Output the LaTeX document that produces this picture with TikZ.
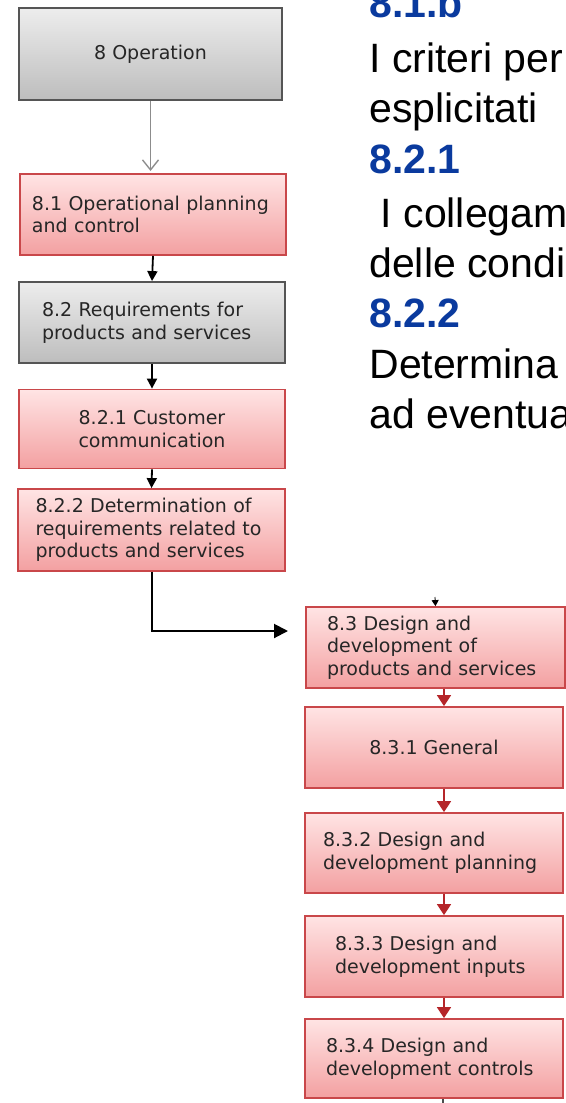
\documentclass[tikz,border=0pt]{standalone}
\usepackage{fontspec}
\setmainfont{Liberation Sans}
\newfontfamily\boxfont{DejaVu Sans}
\usepackage{xcolor}
\definecolor{isoBlue}{HTML}{0A3A9E}
\definecolor{boxRed}{HTML}{C9474A}
\definecolor{arrowRed}{HTML}{B5262A}
\definecolor{redTop}{HTML}{FFE4E4}
\definecolor{redBot}{HTML}{F3A0A1}
\definecolor{grayTop}{HTML}{EDEDED}
\definecolor{grayBot}{HTML}{BDBDBD}
\definecolor{boxGray}{HTML}{555555}
\usepackage{tikz}
\usetikzlibrary{arrows.meta}

\begin{document}
\begin{tikzpicture}[x=0.5pt, y=-0.5pt,
  box/.style={draw, line width=0.9pt, inner sep=0pt, text=black!85,
    font=\boxfont\fontsize{9.5}{11.3}\selectfont},
  redbox/.style={box, draw=boxRed, top color=redTop, bottom color=redBot},
  graybox/.style={box, draw=boxGray, top color=grayTop, bottom color=grayBot},
  blackarrow/.style={line width=0.9pt, -{Triangle[length=5pt,width=5pt]}},
  redarrow/.style={arrowRed, line width=0.9pt, -{Triangle[length=5.5pt,width=7pt]}},
  heading/.style={anchor=base west, inner sep=0pt, text=isoBlue,
    font=\fontsize{20.5}{25}\selectfont\bfseries},
  note/.style={anchor=base west, inner sep=0pt,
    font=\fontsize{20.5}{25}\selectfont}]
  \useasboundingbox (0,0) rectangle (566,1103);
  \clip (0,0) rectangle (566,1103);
  % ------- left column: operation and requirements -------
  \node[graybox, minimum width=131.5pt, minimum height=46pt] (op) at (150.5,54) {8 Operation};
  \node[redbox, minimum width=133pt, minimum height=40.5pt, align=left,
    text width=121pt, inner xsep=6pt] (b81) at (153,214.5)
    {8.1 Operational planning\\and control};
  \node[graybox, minimum width=133pt, minimum height=40.5pt, align=left,
    text width=110pt, inner xsep=11.5pt] (b82) at (152,322.5)
    {8.2 Requirements for\\products and services};
  \node[redbox, minimum width=133pt, minimum height=39.5pt, align=center] (b821) at (152,429)
    {8.2.1 Customer\\communication};
  \node[redbox, minimum width=133.5pt, minimum height=41pt, align=left,
    text width=116pt, inner xsep=8.75pt] (b822) at (151.5,530)
    {8.2.2 Determination of\\requirements related to\\products and services};
  \coordinate (optip) at (150.5,171);
  \draw[black!45, line width=0.7pt, -{Straight Barb[length=5pt,width=8pt]}] (op.south) -- (optip);
  \foreach \a/\b in {b81/b82,b82/b821,b821/b822}
    \draw[blackarrow] (\a.south) -- (\b.north);
  % ------- jump to design and development -------
  \coordinate (tip) at (288,631);
  \draw[line width=1pt, -{Triangle[length=7pt,width=7pt]}] (b822.south) |- (tip);
  % ------- right column: design and development -------
  \node[redbox, minimum width=129.5pt, minimum height=40.5pt, align=left,
    text width=108.5pt, inner xsep=10.5pt] (b83) at (435.5,647.5)
    {8.3 Design and\\development of\\products and services};
  \node[redbox, minimum width=129pt, minimum height=40.5pt] (b831) at (434,747.5) {8.3.1 General};
  \node[redbox, minimum width=129pt, minimum height=40pt, align=left,
    text width=111pt, inner xsep=9pt] (b832) at (434,853)
    {8.3.2 Design and\\development planning};
  \node[redbox, minimum width=129pt, minimum height=40.5pt, align=left,
    text width=99pt, inner xsep=15pt] (b833) at (434,956.5)
    {8.3.3 Design and\\development inputs};
  \node[redbox, minimum width=129pt, minimum height=39.5pt, align=left,
    text width=108pt, inner xsep=10.5pt] (b834) at (434,1058.5)
    {8.3.4 Design and\\development controls};
  \coordinate (rx) at (444,0);
  \foreach \a/\b in {b83/b831,b831/b832,b832/b833,b833/b834}
    \draw[redarrow] (\a.south -| rx) -- (\b.north -| rx);
  \coordinate (intop) at (435,597);
  \draw[line width=0.4pt, -{Triangle[length=3pt,width=3.5pt]}] (intop) -- (b83.north);
  \coordinate (outbot) at (443,1103);
  \draw[black!70, line width=1pt] (b834.south -| outbot) -- (outbot);
  % ------- notes on the right, cut by the page edge -------
  \foreach \y/\lab [count=\i] in {18/8.1.b,173/8.2.1,327/8.2.2}
    \node[heading] (head\i) at (369,\y) {\lab};
  \foreach \y/\txt [count=\i] in {72/{I criteri per},122/esplicitati,227/{\ I collegam},
      277/{delle condi},378/Determina,428/{ad eventua}}
    \node[note] (line\i) at (369,\y) {\txt};
\end{tikzpicture}
\end{document}
